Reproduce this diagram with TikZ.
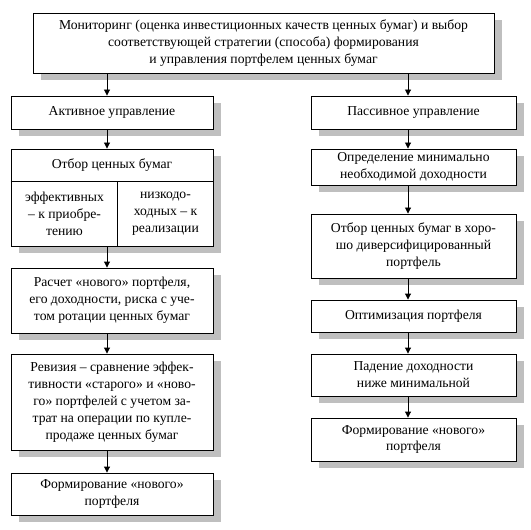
\documentclass[tikz,border=0pt]{standalone}
\usepackage{fontspec}
\setmainfont{Liberation Serif}
\usetikzlibrary{arrows.meta,shadows,calc}
\begin{document}
\begin{tikzpicture}[x=1bp,y=-1bp,
  box/.style={draw=black,line width=0.9bp,fill=white,inner sep=0pt,align=center,
    font=\fontsize{13.7}{17}\selectfont,
    drop shadow={shadow xshift=8bp,shadow yshift=-7bp,fill=black!25,opacity=1}},
  txt/.style={inner sep=0pt,align=center,font=\fontsize{13.7}{17}\selectfont},
  arr/.style={draw=black,line width=0.9bp,-{Triangle[length=6bp,width=6bp]}},
  divline/.style={draw=black,line width=0.9bp}]
\useasboundingbox (0,0) rectangle (531,530);
% top
\node[box,minimum width=461bp,minimum height=60bp] (top) at (263.5,43)
  {Мониторинг (оценка инвестиционных качеств ценных бумаг) и выбор\\
   соответствующей стратегии (способа) формирования\\
   и управления портфелем ценных бумаг};
% left column
\node[box,minimum width=202bp,minimum height=33bp] (act) at (112,112.5) {Активное управление};
\node[box,minimum width=202bp,minimum height=97bp] (otb) at (112,197.5) {};
\node[txt] (otbt) at (112,165.5) {Отбор ценных бумаг};
\node[txt] (eff) at (64.5,214) {эффективных\\– к приобре-\\тению};
\node[txt] (low) at (165.5,214) {низкодо-\\ходных – к\\реализации};
\draw[divline] ([yshift=-33bp]otb.north west) -- ([yshift=-33bp]otb.north east);
\draw[divline] ([xshift=107bp,yshift=-33bp]otb.north west) -- ([xshift=107bp]otb.south west);
\node[box,minimum width=202bp,minimum height=65bp] (ras) at (112,300.5)
  {Расчет «нового» портфеля,\\его доходности, риска с уче-\\том ротации ценных бумаг};
\node[box,minimum width=202bp,minimum height=96bp] (rev) at (112,402)
  {Ревизия – сравнение эффек-\\тивности «старого» и «ново-\\го» портфелей с учетом за-\\трат на операции по купле-\\продаже ценных бумаг};
\node[box,minimum width=202bp,minimum height=42bp] (fl) at (112,494)
  {Формирование «нового»\\портфеля};
% right column
\node[box,minimum width=205bp,minimum height=33bp] (pas) at (413.5,112.5) {Пассивное управление};
\node[box,minimum width=205bp,minimum height=36bp] (opr) at (413.5,167)
  {Определение минимально\\необходимой доходности};
\node[box,minimum width=205bp,minimum height=64bp] (otr) at (413.5,246)
  {Отбор ценных бумаг в хоро-\\шо диверсифицированный\\портфель};
\node[box,minimum width=205bp,minimum height=32bp] (opt) at (413.5,316) {Оптимизация портфеля};
\node[box,minimum width=205bp,minimum height=42bp] (pad) at (413.5,375)
  {Падение доходности\\ниже минимальной};
\node[box,minimum width=205bp,minimum height=43bp] (fr) at (413.5,439.5)
  {Формирование «нового»\\портфеля};
% arrows left
\draw[arr] ([xshift=-5bp]act.north |- top.south) -- ([xshift=-5bp]act.north);
\draw[arr] ([xshift=-5bp]act.south) -- ([xshift=-5bp]otb.north);
\draw[arr] ([xshift=-5bp]otb.south) -- ([xshift=-5bp]ras.north);
\draw[arr] ([xshift=-5bp]ras.south) -- ([xshift=-5bp]rev.north);
\draw[arr] ([xshift=-5bp]rev.south) -- ([xshift=-5bp]fl.north);
% arrows right
\draw[arr] ([xshift=-5.5bp]pas.north |- top.south) -- ([xshift=-5.5bp]pas.north);
\draw[arr] ([xshift=-5.5bp]pas.south) -- ([xshift=-5.5bp]opr.north);
\draw[arr] ([xshift=-5.5bp]opr.south) -- ([xshift=-5.5bp]otr.north);
\draw[arr] ([xshift=-5.5bp]otr.south) -- ([xshift=-5.5bp]opt.north);
\draw[arr] ([xshift=-5.5bp]opt.south) -- ([xshift=-5.5bp]pad.north);
\draw[arr] ([xshift=-5.5bp]pad.south) -- ([xshift=-5.5bp]fr.north);
\end{tikzpicture}
\end{document}
